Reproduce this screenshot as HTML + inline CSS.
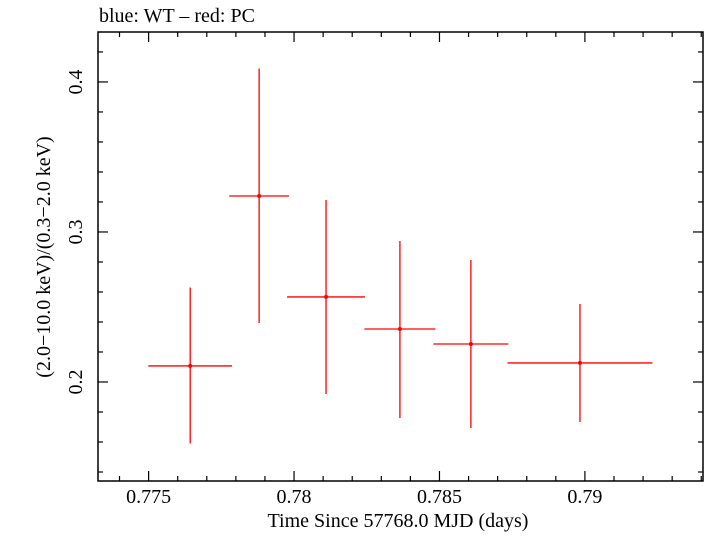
<!DOCTYPE html>
<html><head><meta charset="utf-8"><style>
body{margin:0;background:#fff}
svg text{font-family:"Liberation Serif",serif;fill:#000}
</style></head><body>
<svg id="chart" width="705" height="532" xmlns="http://www.w3.org/2000/svg">
<text x="99" y="22" font-size="20">blue: WT – red: PC</text>
<g id="axes"></g>
<g id="marks"></g>
<text x="398" y="527" font-size="20" text-anchor="middle">Time Since 57768.0 MJD (days)</text>
<text transform="translate(50,257) rotate(-90)" font-size="20" text-anchor="middle">(2.0−10.0 keV)/(0.3−2.0 keV)</text>
</svg>
<script>
const xVals=[0.77643,0.7788,0.7811,0.78364,0.78608,0.78983];
const xErr=[0.00144,0.00103,0.00134,0.00122,0.00129,0.00249];
const yVals=[0.2107,0.324,0.2567,0.2353,0.2253,0.2127];
const yHi=[0.263,0.409,0.3213,0.294,0.2813,0.252];
const yLo=[0.159,0.2393,0.192,0.176,0.1693,0.1733];
const xTicks=[0.775,0.78,0.785,0.79];
const xTickLabels=["0.775","0.78","0.785","0.79"];
const yTicks=[0.2,0.3,0.4];
const yTickLabels=["0.2","0.3","0.4"];
const L=98,R=703,T=32,B=481,xmin=0.77326,xmax=0.79406,ymin=0.134,ymax=0.4333;
const X=v=>L+(v-xmin)/(xmax-xmin)*(R-L);
const Y=v=>B-(v-ymin)/(ymax-ymin)*(B-T);
const NS="http://www.w3.org/2000/svg";
const axes=document.getElementById('axes'),marks=document.getElementById('marks');
function ln(p,x1,y1,x2,y2,c,w){const e=document.createElementNS(NS,'line');e.setAttribute('x1',x1);e.setAttribute('y1',y1);e.setAttribute('x2',x2);e.setAttribute('y2',y2);e.setAttribute('stroke',c);e.setAttribute('stroke-width',w);p.appendChild(e);return e;}
const fr=document.createElementNS(NS,'rect');


fr.setAttribute('x',L);fr.setAttribute('y',T);fr.setAttribute('width',R-L);fr.setAttribute('height',B-T);fr.setAttribute('fill','none');fr.setAttribute('stroke','#000');fr.setAttribute('stroke-width','1.5');axes.appendChild(fr);
for(let i=774;i<=794;i++){const v=i/1000;const x=X(v);if(x<L||x>R)continue;const maj=i%5===0;const len=maj?10:5;
const t1=ln(axes,x,B,x,B-len,'#000',1.2);
const t2=ln(axes,x,T,x,T+len,'#000',1.2);}
xTicks.forEach((v,i)=>{const t=document.createElementNS(NS,'text');


t.setAttribute('x',X(v));t.setAttribute('y',503);t.setAttribute('font-size','20');t.setAttribute('text-anchor','middle');t.textContent=xTickLabels[i];axes.appendChild(t);});
for(let i=7;i<=21;i++){const v=i/50;const y=Y(v);if(y<T||y>B)continue;const maj=i%5===0;const len=maj?10:5;
const t1=ln(axes,L,y,L+len,y,'#000',1.2);
const t2=ln(axes,R,y,R-len,y,'#000',1.2);}
yTicks.forEach((v,i)=>{const t=document.createElementNS(NS,'text');


t.setAttribute('transform',`translate(82,${Y(v)}) rotate(-90)`);t.setAttribute('font-size','20');t.setAttribute('text-anchor','middle');t.textContent=yTickLabels[i];axes.appendChild(t);});
xVals.forEach((v,i)=>{const g=document.createElementNS(NS,'g');


ln(g,X(v-xErr[i]),Y(yVals[i]),X(v+xErr[i]),Y(yVals[i]),'#f00',1.3);
ln(g,X(v),Y(yHi[i]),X(v),Y(yLo[i]),'#f00',1.3);
const c=document.createElementNS(NS,'circle');c.setAttribute('cx',X(v));c.setAttribute('cy',Y(yVals[i]));c.setAttribute('r',2);c.setAttribute('fill','#f00');g.appendChild(c);
marks.appendChild(g);});
</script>
</body></html>
